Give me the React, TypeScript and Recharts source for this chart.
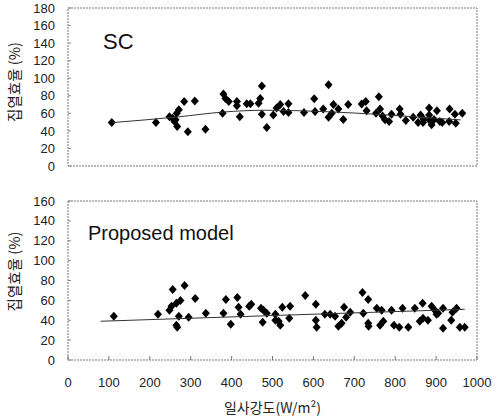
import React from "react";
import {
  ScatterChart,
  Scatter,
  XAxis,
  YAxis,
  ReferenceArea,
  Label,
} from "recharts";

// irradiance (W/m2) and efficiency (%)
const scIrr = [
  107, 215, 248, 256, 263, 266, 271, 260, 267, 284, 293, 310, 336, 380, 385, 393, 378, 413, 413, 420,
  437, 446, 474, 470, 466, 474, 486, 502, 510, 519, 527, 539, 539, 577, 602, 604, 624, 637, 637, 649,
  645, 661, 673, 685, 718, 728, 730, 753, 760, 763, 769, 775, 785, 791, 811, 813, 826, 844, 856, 862,
  868, 870, 883, 883, 884, 889, 895, 902, 909, 915, 932, 933, 946, 948, 964,
];
const scEff = [
  49.5, 49.5, 56, 54.5, 52.6, 60, 64, 51, 45, 73.5, 39, 74, 42, 82, 77, 73.5, 60, 73.5, 68.6, 56,
  71, 71, 91, 77, 71.6, 59, 44, 58, 66, 70, 62, 71, 61, 61, 76.6, 62, 65, 92.6, 55.6, 70,
  60, 65, 53, 70, 70.5, 73.5, 63, 60, 79, 65, 57, 52.6, 50.6, 59, 65, 59, 51.8, 55.6, 49.5, 58,
  49.5, 53, 66, 58, 52, 47, 53, 63, 50.6, 49.5, 50.6, 64.8, 59, 48.8, 60,
];

const pmIrr = [
  112, 220, 248, 253, 256, 265, 275, 285, 271, 267, 265, 295, 311, 337, 380, 386, 398, 414, 417, 422,
  443, 448, 472, 478, 476, 486, 507, 507, 515, 519, 524, 543, 541, 580, 606, 606, 608, 628, 641, 653,
  661, 669, 675, 680, 690, 720, 722, 734, 734, 735, 755, 767, 763, 771, 791, 797, 810, 818, 832, 848,
  860, 867, 868, 880, 889, 897, 901, 905, 917, 917, 937, 940, 950, 958, 970,
];
const pmEff = [
  44, 46, 50, 54, 71, 57, 60, 75, 44, 33, 35, 43, 62, 47, 47, 61, 36, 63, 53, 46,
  54, 56, 52, 50, 38, 47, 46, 40, 39, 35, 53, 54, 42, 65, 56, 40, 33, 46, 46, 44,
  34, 37, 53, 43, 48, 68, 47, 61, 37, 34, 52, 50, 35, 39, 50, 35, 33, 52, 33, 52,
  39, 57, 42, 40, 54, 50, 46, 47, 52, 32, 40, 48, 52, 33, 33,
];

// fitted curves as drawn in the figure
const scTrendIrr = [110, 270, 380, 480, 560, 650, 750, 850, 960];
const scTrendEff = [49.5, 56, 61.5, 63.5, 63, 61.5, 59, 56, 52.5];
const pmTrendIrr = [80, 520, 970];
const pmTrendEff = [39, 45, 51];

const xTicks = [0, 100, 200, 300, 400, 500, 600, 700, 800, 900, 1000];
const scYTicks = [0, 20, 40, 60, 80, 100, 120, 140, 160, 180];
const pmYTicks = [0, 20, 40, 60, 80, 100, 120, 140, 160];

const toPoints = (xs: number[], ys: number[]) => xs.map((x, i) => ({ x, y: ys[i] }));

const scData = toPoints(scIrr, scEff);
const pmData = toPoints(pmIrr, pmEff);
const scTrend = toPoints(scTrendIrr, scTrendEff);
const pmTrend = toPoints(pmTrendIrr, pmTrendEff);

const FONT = "'Liberation Sans', Arial, Helvetica, sans-serif";
const KFONT = "'Noto Sans CJK KR', 'Noto Sans', sans-serif";
const tickStyle = { fontSize: 13, fill: "#222", fontFamily: FONT };
const yTitleStyle = { textAnchor: "middle" as const, fontSize: 14.5, fill: "#222", fontFamily: KFONT };

const Diamond = (props: any) => {
  const { cx, cy } = props;
  if (cx == null || cy == null) return <g />;
  return (
    <polygon
      points={`${cx},${cy - 4.5} ${cx + 4},${cy} ${cx},${cy + 4.5} ${cx - 4},${cy}`}
      fill="#000"
    />
  );
};

const NoDot = () => <g />;

export default function App() {
  return (
    <div style={{ position: "absolute", left: 0, top: 0, width: 500, height: 417, background: "#fff" }}>
      {/* SC panel */}
      <div style={{ position: "absolute", left: 0, top: 0 }}>
        <ScatterChart width={500} height={180} margin={{ top: 8, right: 23, bottom: 0, left: 0 }}>
          <XAxis
            type="number"
            dataKey="x"
            domain={[0, 1000]}
            ticks={xTicks}
            interval={0}
            height={14}
            axisLine={false}
            tick={false}
            tickSize={-4}
            tickLine={{ stroke: "#777" }}
          />
          <YAxis
            type="number"
            dataKey="y"
            domain={[0, 180]}
            ticks={scYTicks}
            interval={0}
            width={68}
            axisLine={false}
            tickSize={-3}
            tickMargin={16}
            tickLine={{ stroke: "#888" }}
            tick={tickStyle}
          >
            <Label value="집열효율 (%)" angle={-90} position="insideLeft" offset={15} dy={-5} style={yTitleStyle} />
          </YAxis>
          <ReferenceArea x1={0} x2={1000} y1={0} y2={180} fill="none" stroke="#777" strokeDasharray="2 1" />
          <Scatter data={scData} shape={Diamond} isAnimationActive={false} />
          <Scatter
            data={scTrend}
            shape={NoDot}
            line={{ stroke: "#333", strokeWidth: 1 }}
            lineJointType="monotoneX"
            isAnimationActive={false}
          />
        </ScatterChart>
        <div style={{ position: "absolute", left: 103, top: 29, fontFamily: FONT, fontSize: 22, color: "#111" }}>
          SC
        </div>
      </div>

      {/* Proposed model panel */}
      <div style={{ position: "absolute", left: 0, top: 193 }}>
        <ScatterChart width={500} height={224} margin={{ top: 8, right: 23, bottom: 0, left: 0 }}>
          <XAxis
            type="number"
            dataKey="x"
            domain={[0, 1000]}
            ticks={xTicks}
            interval={0}
            height={57}
            axisLine={false}
            tickSize={-4}
            tickMargin={22}
            tickLine={{ stroke: "#777" }}
            tick={tickStyle}
          >
            <Label
              value="일사강도(W/m²)"
              position="insideBottom"
              offset={4}
              style={{ textAnchor: "middle", fontSize: 14, fill: "#222", fontFamily: KFONT }}
            />
          </XAxis>
          <YAxis
            type="number"
            dataKey="y"
            domain={[0, 160]}
            ticks={pmYTicks}
            interval={0}
            width={68}
            axisLine={false}
            tickSize={-3}
            tickMargin={16}
            tickLine={{ stroke: "#888" }}
            tick={tickStyle}
          >
            <Label value="집열효율 (%)" angle={-90} position="insideLeft" offset={15} dy={-9} style={yTitleStyle} />
          </YAxis>
          <ReferenceArea x1={0} x2={1000} y1={0} y2={160} fill="none" stroke="#777" strokeDasharray="2 1" />
          <Scatter data={pmData} shape={Diamond} isAnimationActive={false} />
          <Scatter
            data={pmTrend}
            shape={NoDot}
            line={{ stroke: "#333", strokeWidth: 1 }}
            isAnimationActive={false}
          />
        </ScatterChart>
        <div style={{ position: "absolute", left: 88, top: 29, fontFamily: FONT, fontSize: 20, color: "#111" }}>
          Proposed model
        </div>
      </div>
    </div>
  );
}
